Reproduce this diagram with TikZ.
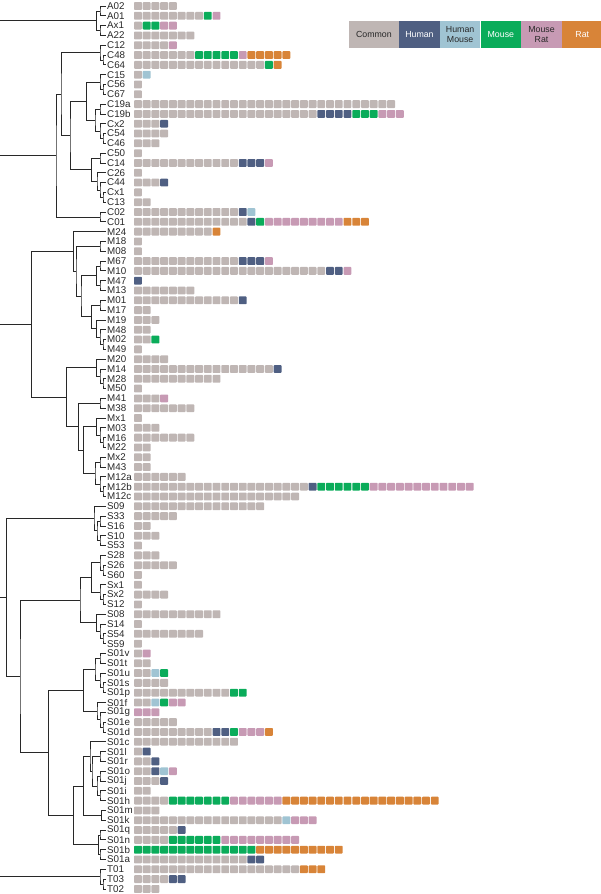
\documentclass[tikz,border=0pt]{standalone}
\usepackage{fontspec}
\setmainfont{Liberation Sans}
\usepackage{tikz}
\usetikzlibrary{calc,positioning}
\definecolor{cmn}{RGB}{191,182,180}
\definecolor{hum}{RGB}{79,95,130}
\definecolor{hmo}{RGB}{160,196,211}
\definecolor{mou}{RGB}{10,172,90}
\definecolor{mra}{RGB}{199,154,180}
\definecolor{rat}{RGB}{216,132,56}
\definecolor{ink}{RGB}{40,40,40}
\newcounter{cellno}
% one taxon: label + its row of cells
\newcommand\taxon[3]{%
  \node[lab] (#1) at (106, {-6-9.81*#2}) {#1};
  \setcounter{cellno}{0}%
  \foreach \col/\n in {#3}
    \foreach \j in {1,...,\n}{%
      \fill[\col, rounded corners=0.8pt] ({134+8.73*\thecellno}, {-6-9.81*#2-3.9}) rectangle ++(7.9,7.8);
      \stepcounter{cellno}}%
}
% one clade: join two children at depth #2
\newcommand\clade[4]{%
  \path let \p1=(#3), \p2=(#4) in coordinate (#1) at (#2, {0.5*(\y1+\y2)});
  \draw[tree] (#3) -| (#1) |- (#4);
}

\begin{document}
\begin{tikzpicture}[x=1pt, y=1pt,
    lab/.style={anchor=west, inner xsep=1pt, inner ysep=0pt, text=ink, font=\fontsize{9.8}{10}\selectfont},
    tree/.style={draw=ink, line width=0.8pt},
    legbox/.style={inner sep=0pt, minimum height=27pt, align=center, font=\fontsize{8.8}{9.6}\selectfont}]
\useasboundingbox (0,0) rectangle (600,-894);
\coordinate (root) at (0,0);

% legend
\node[legbox, fill=cmn, text=ink, minimum width=50pt, anchor=north west] (legCommon) at (348.7,-21) {Common};
\node[legbox, fill=hum, text=white, minimum width=40.3pt, right=0pt of legCommon] (legHuman) {Human};
\node[legbox, fill=hmo, text=ink, minimum width=40.3pt, right=0pt of legHuman] (legHumMouse) {Human\\Mouse};
\node[legbox, fill=mou, text=white, minimum width=40.3pt, right=0pt of legHumMouse] (legMouse) {Mouse};
\node[legbox, fill=mra, text=ink, minimum width=40.3pt, right=0pt of legMouse] (legMouseRat) {Mouse\\Rat};
\node[legbox, fill=rat, text=white, minimum width=40.3pt, right=0pt of legMouseRat] (legRat) {Rat};

% taxa
\taxon{A02}{0}{cmn/5}
\taxon{A01}{1}{cmn/8,mou/1,mra/1}
\taxon{Ax1}{2}{cmn/1,mou/2,mra/2}
\taxon{A22}{3}{cmn/7}
\taxon{C12}{4}{cmn/4,mra/1}
\taxon{C48}{5}{cmn/7,mou/5,mra/1,rat/5}
\taxon{C64}{6}{cmn/15,mou/1,rat/1}
\taxon{C15}{7}{cmn/1,hmo/1}
\taxon{C56}{8}{cmn/1}
\taxon{C67}{9}{cmn/1}
\taxon{C19a}{10}{cmn/30}
\taxon{C19b}{11}{cmn/21,hum/4,mou/3,mra/3}
\taxon{Cx2}{12}{cmn/3,hum/1}
\taxon{C54}{13}{cmn/4}
\taxon{C46}{14}{cmn/3}
\taxon{C50}{15}{cmn/1}
\taxon{C14}{16}{cmn/12,hum/3,mra/1}
\taxon{C26}{17}{cmn/1}
\taxon{C44}{18}{cmn/3,hum/1}
\taxon{Cx1}{19}{cmn/1}
\taxon{C13}{20}{cmn/2}
\taxon{C02}{21}{cmn/12,hum/1,hmo/1}
\taxon{C01}{22}{cmn/13,hum/1,mou/1,mra/9,rat/3}
\taxon{M24}{23}{cmn/9,rat/1}
\taxon{M18}{24}{cmn/1}
\taxon{M08}{25}{cmn/1}
\taxon{M67}{26}{cmn/12,hum/3,mra/1}
\taxon{M10}{27}{cmn/22,hum/2,mra/1}
\taxon{M47}{28}{hum/1}
\taxon{M13}{29}{cmn/7}
\taxon{M01}{30}{cmn/12,hum/1}
\taxon{M17}{31}{cmn/2}
\taxon{M19}{32}{cmn/3}
\taxon{M48}{33}{cmn/2}
\taxon{M02}{34}{cmn/2,mou/1}
\taxon{M49}{35}{cmn/1}
\taxon{M20}{36}{cmn/4}
\taxon{M14}{37}{cmn/16,hum/1}
\taxon{M28}{38}{cmn/10}
\taxon{M50}{39}{cmn/1}
\taxon{M41}{40}{cmn/3,mra/1}
\taxon{M38}{41}{cmn/7}
\taxon{Mx1}{42}{cmn/1}
\taxon{M03}{43}{cmn/3}
\taxon{M16}{44}{cmn/7}
\taxon{M22}{45}{cmn/2}
\taxon{Mx2}{46}{cmn/2}
\taxon{M43}{47}{cmn/2}
\taxon{M12a}{48}{cmn/6}
\taxon{M12b}{49}{cmn/20,hum/1,mou/6,mra/12}
\taxon{M12c}{50}{cmn/19}
\taxon{S09}{51}{cmn/15}
\taxon{S33}{52}{cmn/5}
\taxon{S16}{53}{cmn/2}
\taxon{S10}{54}{cmn/3}
\taxon{S53}{55}{cmn/1}
\taxon{S28}{56}{cmn/3}
\taxon{S26}{57}{cmn/5}
\taxon{S60}{58}{cmn/1}
\taxon{Sx1}{59}{cmn/1}
\taxon{Sx2}{60}{cmn/4}
\taxon{S12}{61}{cmn/1}
\taxon{S08}{62}{cmn/10}
\taxon{S14}{63}{cmn/1}
\taxon{S54}{64}{cmn/8}
\taxon{S59}{65}{cmn/1}
\taxon{S01v}{66}{cmn/1,mra/1}
\taxon{S01t}{67}{cmn/2}
\taxon{S01u}{68}{cmn/2,hmo/1,mou/1}
\taxon{S01s}{69}{cmn/4}
\taxon{S01p}{70}{cmn/11,mou/2}
\taxon{S01f}{71}{cmn/2,hmo/1,mou/1,mra/2}
\taxon{S01g}{72}{mra/3}
\taxon{S01e}{73}{cmn/5}
\taxon{S01d}{74}{cmn/9,hum/2,mou/1,mra/3,rat/1}
\taxon{S01c}{75}{cmn/12}
\taxon{S01l}{76}{cmn/1,hum/1}
\taxon{S01r}{77}{cmn/2,hum/1}
\taxon{S01o}{78}{cmn/2,hum/1,hmo/1,mra/1}
\taxon{S01j}{79}{cmn/3,hum/1}
\taxon{S01i}{80}{cmn/2}
\taxon{S01h}{81}{cmn/4,mou/7,mra/6,rat/18}
\taxon{S01m}{82}{cmn/3}
\taxon{S01k}{83}{cmn/17,hmo/1,mra/3}
\taxon{S01q}{84}{cmn/5,hum/1}
\taxon{S01n}{85}{cmn/4,mou/6,mra/9}
\taxon{S01b}{86}{mou/14,rat/10}
\taxon{S01a}{87}{cmn/13,hum/2}
\taxon{T01}{88}{cmn/19,rat/3}
\taxon{T03}{89}{cmn/4,hum/2}
\taxon{T02}{90}{cmn/3}

% A clade
\clade{a1}{100}{A02.west}{A01.west}
\clade{a2}{100}{Ax1.west}{A22.west}
\clade{gA}{96.5}{a1}{a2}
\draw[tree] (gA) -- (gA -| root);

% C clade
\clade{c1}{103}{C48.west}{C64.west}
\clade{c2}{100}{C12.west}{c1}
\clade{c3}{103}{C56.west}{C67.west}
\clade{c4}{100}{C15.west}{c3}
\clade{c5}{100}{C19a.west}{C19b.west}
\clade{c6}{103}{C54.west}{C46.west}
\clade{c7}{100}{Cx2.west}{c6}
\clade{c8}{95}{c5}{c7}
\clade{c9}{86.7}{c4}{c8}
\clade{c10}{100}{C50.west}{C14.west}
\clade{c11}{103}{Cx1.west}{C13.west}
\clade{c12}{100}{C44.west}{c11}
\clade{c13}{97}{C26.west}{c12}
\clade{c14}{91.7}{c10}{c13}
\clade{c15}{70}{c9}{c14}
\clade{c16}{61}{c2}{c15}
\clade{c17}{100}{C02.west}{C01.west}
\clade{gC}{56}{c16}{c17}
\draw[tree] (gC) -- (gC -| root);

% M clade
\clade{m1}{100}{M18.west}{M08.west}
\clade{m2}{100}{M67.west}{M10.west}
\clade{m3}{100}{M47.west}{M13.west}
\clade{m4}{96.7}{m2}{m3}
\clade{m5}{100}{M01.west}{M17.west}
\clade{m6}{103}{M02.west}{M49.west}
\clade{m7}{100}{M48.west}{m6}
\clade{m8}{96.7}{M19.west}{m7}
\clade{m9}{91.7}{m5}{m8}
\clade{m10}{81}{m4}{m9}
\clade{m11}{76}{m1}{m10}
\clade{m12}{73.3}{M24.west}{m11}
\clade{m13}{103}{M28.west}{M50.west}
\clade{m14}{100}{M14.west}{m13}
\clade{m15}{96.7}{M20.west}{m14}
\clade{m16}{100}{M41.west}{M38.west}
\clade{m17}{103}{M16.west}{M22.west}
\clade{m18}{100}{M03.west}{m17}
\clade{m19}{96.7}{Mx1.west}{m18}
\clade{m20}{100}{Mx2.west}{M43.west}
\clade{m21}{103}{M12b.west}{M12c.west}
\clade{m22}{100}{M12a.west}{m21}
\clade{m23}{95}{m20}{m22}
\clade{m24}{83.3}{m19}{m23}
\clade{m25}{78.3}{m16}{m24}
\clade{m26}{66.7}{m15}{m25}
\clade{gM}{31.7}{m12}{m26}
\draw[tree] (gM) -- (gM -| root);

% S clade
\clade{s1}{100}{S33.west}{S16.west}
\clade{s2}{100}{S10.west}{S53.west}
\clade{s3}{97}{s1}{s2}
\clade{s4}{94}{S09.west}{s3}
\clade{s5}{103}{S26.west}{S60.west}
\clade{s6}{100}{S28.west}{s5}
\clade{s7}{103}{Sx2.west}{S12.west}
\clade{s8}{100}{Sx1.west}{s7}
\clade{s9}{91.7}{s6}{s8}
\clade{s10}{103}{S54.west}{S59.west}
\clade{s11}{100}{S14.west}{s10}
\clade{s12}{96.7}{S08.west}{s11}
\clade{s13}{80}{s9}{s12}
\clade{s14}{100}{S01v.west}{S01t.west}
\clade{s15}{103}{S01s.west}{S01p.west}
\clade{s16}{100}{S01u.west}{s15}
\clade{s17}{95}{s14}{s16}
\clade{s18}{103}{S01e.west}{S01d.west}
\clade{s19}{100}{S01g.west}{s18}
\clade{s20}{97}{S01f.west}{s19}
\clade{s21}{83.3}{s17}{s20}
\clade{s22}{100}{S01l.west}{S01r.west}
\clade{s23}{100}{S01o.west}{S01j.west}
\clade{s24}{100}{S01i.west}{S01h.west}
\clade{s25}{97}{s23}{s24}
\clade{s26}{92}{s22}{s25}
\clade{s27}{90}{S01c.west}{s26}
\clade{s28}{101.7}{S01m.west}{S01k.west}
\clade{s29}{83.3}{s27}{s28}
\clade{s30}{100}{S01q.west}{S01n.west}
\clade{s31}{100}{S01b.west}{S01a.west}
\clade{s32}{98.3}{s30}{s31}
\clade{s33}{73.3}{s29}{s32}
\clade{s34}{48.3}{s21}{s33}
\clade{s35}{20}{s13}{s34}
\clade{gS}{6.7}{s4}{s35}
\draw[tree] (gS) -- (gS -| root);

% T clade
\clade{t1}{103}{T03.west}{T02.west}
\clade{gT}{100}{T01.west}{t1}
\draw[tree] (gT) -- (gT -| root);
\end{tikzpicture}
\end{document}
